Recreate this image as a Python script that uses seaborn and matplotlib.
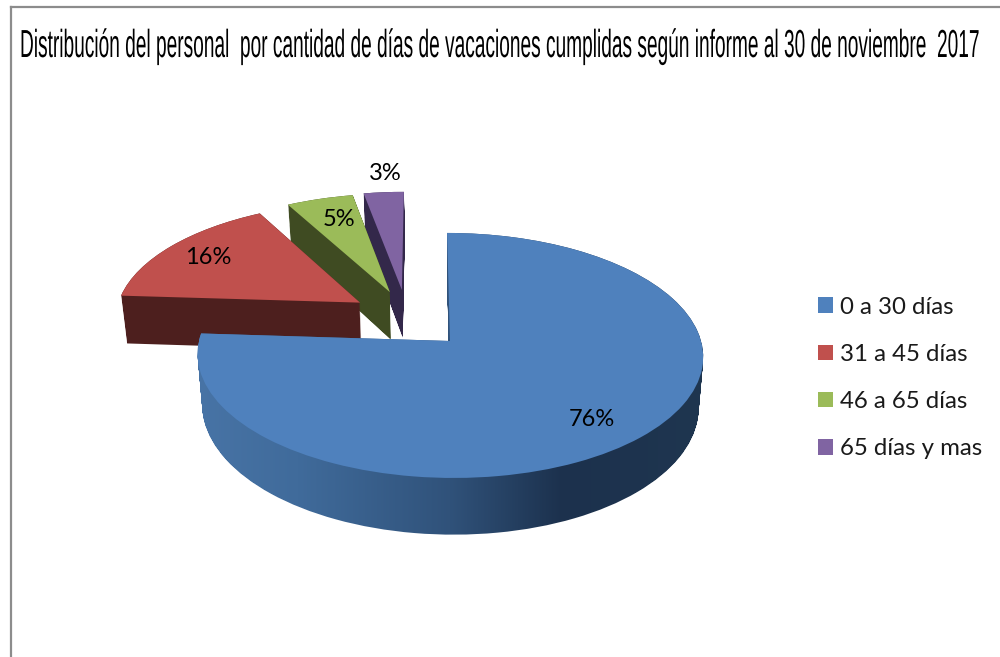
import numpy as np
import matplotlib
matplotlib.use("Agg")
import matplotlib.pyplot as plt
import seaborn as sns
from matplotlib.colors import LinearSegmentedColormap
from matplotlib.patches import PathPatch
from matplotlib.path import Path
from matplotlib.patheffects import AbstractPathEffect
from matplotlib.transforms import Affine2D, Transform
from matplotlib import font_manager as fm

# ---- data ----
categories = ["0 a 30 días", "31 a 45 días", "46 a 65 días", "65 días y mas"]
values = [76, 16, 5, 3]
title = ("Distribución del personal  por cantidad de días de vacaciones "
         "cumplidas según informe al 30 de noviembre  2017")

# ---- style ----
top_colors = sns.color_palette(["#4f81bd", "#c0504d", "#9bbb59", "#8064a2"])
side_colors = ["#1f3650", "#4d1f1e", "#3f4b22", "#33284a"]
offsets = [(0, 0), (-0.368, 0.33), (-0.246, 0.425), (-0.196, 0.445)]
label_pos = [(592, 419), (208, 258), (339, 219), (385, 174)]
order_z = [4, 3, 2, 1]
CX, CY, BX, AY, K, SKEW = 450, 341, 251, 120.8, 0.118, -3.3
DEPTH, SHRINK = 50, 0.018

sns.set_theme(style="white")
avail = {f.name for f in fm.fontManager.ttflist}
LEG_FONT = "Lato"
TITLE_FONT = "Liberation Sans Narrow" if "Liberation Sans Narrow" in avail else "Liberation Sans"


class Tilt(Transform):
    """Perspective view of the pie plane, at height level z (0 top, 1 bottom)."""
    input_dims = output_dims = 2
    is_separable = False
    has_inverse = False

    def __init__(self, z=0.0):
        super().__init__()
        self.z = z

    def transform_non_affine(self, xy):
        xy = np.asarray(xy, float)
        x, y = xy[:, 0], xy[:, 1]
        d = 1 + K * y
        X = CX + (BX * x + SKEW * y) / d
        Y = CY - AY * y / d
        X = CX + (X - CX) * (1 - SHRINK * self.z)
        Y = Y + self.z * DEPTH / d
        return np.column_stack([X, Y])


class TallText(AbstractPathEffect):
    """Stretches the glyphs of a text vertically about their baseline."""

    def __init__(self, factor):
        super().__init__()
        self.factor = factor

    def draw_path(self, renderer, gc, tpath, affine, rgbFace=None):
        renderer.draw_path(gc, tpath, Affine2D().scale(1, self.factor) + affine, rgbFace)


fig = plt.figure(figsize=(10, 6.57), dpi=100, facecolor="white")

# chart frame: only its top and left edges are inside the crop
frame = fig.add_axes([10.5 / 1000, 0, 1 - 10.5 / 1000, 1 - 6.5 / 657])
frame.set_xticks([]); frame.set_yticks([])
for name, sp in frame.spines.items():
    sp.set_visible(name in ("left", "top"))
    sp.set_color("#8c8c8c")
    sp.set_linewidth(1.6)

ax = fig.add_axes([0, 0, 1, 1])
ax.patch.set_alpha(0)
wedges, _, autotexts = ax.pie(values, startangle=90, counterclock=False,
                              colors=top_colors, autopct="%.0f%%",
                              textprops=dict(family=LEG_FONT, size=17, color="black"))
ax.set_aspect("auto")
ax.set_xlim(0, 1000)
ax.set_ylim(657, 0)
ax.axis("off")

levels = np.linspace(1, 0, 50)
for i, w in enumerate(wedges):
    w.set_center(offsets[i])
    w.set_edgecolor("none")
    w.set_linewidth(0)
    unit = w.get_path()
    w.set_transform(Tilt(0) + ax.transData)
    w.set_zorder(order_z[i] + 0.5)
    stack = Path.make_compound_path(*[Tilt(z).transform_path(unit) for z in levels])
    if i == 0:
        cmap = LinearSegmentedColormap.from_list(
            "side", [(0, "#4874a6"), (0.2, "#406b9b"), (0.5, "#30527a"),
                     (0.72, "#1c314d"), (1, "#1f3650")])
        im = ax.imshow(np.linspace(0, 1, 256)[None, :], cmap=cmap, aspect="auto",
                       extent=(195, 706, 560, 225), zorder=order_z[i])
        im.set_clip_path(stack, transform=ax.transData)
    else:
        ax.add_patch(PathPatch(stack, facecolor=side_colors[i], edgecolor="none",
                               zorder=order_z[i]))
ax.set_xlim(0, 1000)
ax.set_ylim(657, 0)

for t, p in zip(autotexts, label_pos):
    t.set_position(p)
    t.set_zorder(10)
    t.set_ha("center")
    t.set_va("center")

ax.legend(wedges, categories, loc="center left", bbox_to_anchor=(818, 378),
          bbox_transform=ax.transData, frameon=False, borderpad=0, borderaxespad=0,
          prop=dict(family=LEG_FONT, size=17.3), handlelength=0.625, handleheight=0.625,
          handletextpad=0.29, labelspacing=1.09, labelcolor="#1a1a1a")

tt = ax.text(20, 57, title, family=TITLE_FONT, size=20, color="black",
             ha="left", va="baseline", zorder=10)
r = fig.canvas.get_renderer()
fitted = 20 * 958 / tt.get_window_extent(r).width
tt.set_fontsize(fitted)
# reference title is strongly condensed: same width, about twice the height
cap_px = 0.716 * fitted * 100 / 72
tt.set_path_effects([TallText(28 / cap_px)])

fig.savefig("out.png", dpi=100, facecolor="white")
